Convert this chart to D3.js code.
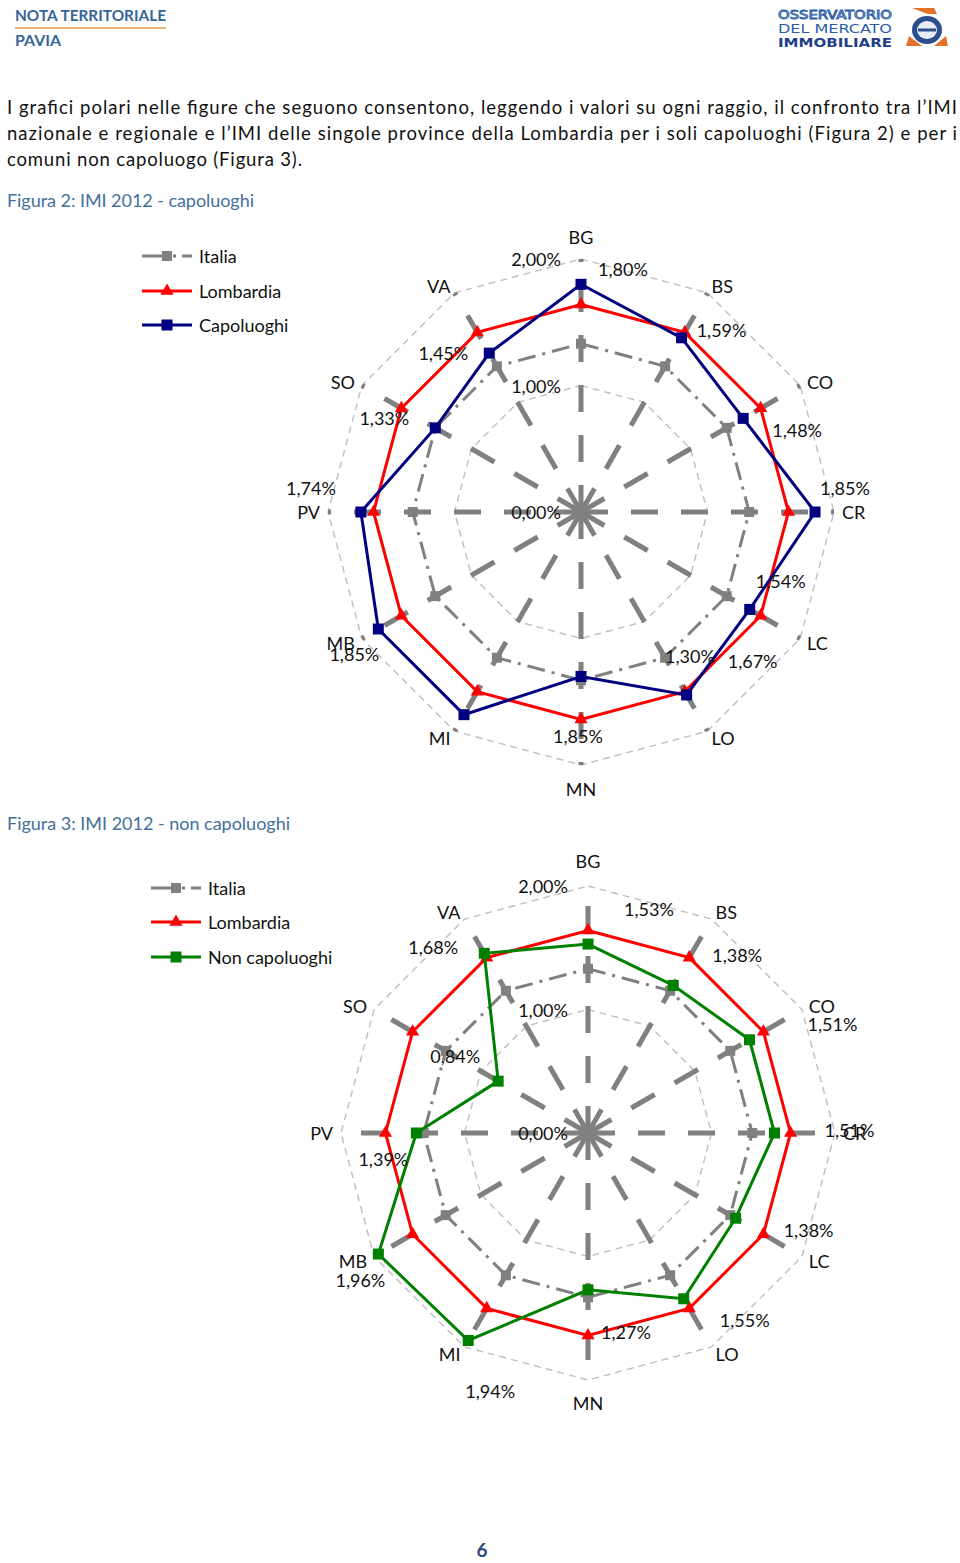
<!DOCTYPE html>
<html><head><meta charset="utf-8">
<script src="https://cdn.jsdelivr.net/npm/d3@7"></script>
<style>
html,body{margin:0;padding:0;background:#fff;}
svg{display:block;font-family:Lato,"Open Sans",sans-serif;}
</style></head>
<body><svg id="page" width="960" height="1563"></svg>
<script>
// ---------- data ----------
const categories = ["BG","BS","CO","CR","LC","LO","MN","MI","MB","PV","SO","VA"];
const italia = [1.33,1.33,1.33,1.33,1.33,1.33,1.33,1.33,1.33,1.33,1.33,1.33];
const lombardia = [1.64,1.64,1.64,1.64,1.64,1.64,1.64,1.64,1.64,1.64,1.64,1.64];
const capoluoghi = [1.80,1.59,1.48,1.85,1.54,1.67,1.30,1.85,1.85,1.74,1.33,1.45];
const nonCapoluoghi = [1.53,1.38,1.51,1.51,1.38,1.55,1.27,1.94,1.96,1.39,0.84,1.68];
const tickValues = [0, 1, 2];
const legendNames1 = ["Italia","Lombardia","Capoluoghi"];
const legendNames2 = ["Italia","Lombardia","Non capoluoghi"];

// label placement offsets (layout only, pixels from the marker)
const labelOffsets1 = [[42,-15],[40,-8],[54,12],[30,-24],[31,-28],[66,-34],[109,-20],[114,21],[-24,25],[-50,-24],[-51,-10],[-46,0]];
const labelOffsets2 = [[61,-35],[64,-30],[83,-16],[75,-3],[73,12],[61,21],[38,42],[22,51],[-18,26],[-33,26],[-43,-25],[-51,-6]];

const fmt = v => d3.format(".2f")(v).replace(".", ",") + "%";
const svg = d3.select("#page");

// ---------- header ----------
svg.append("text").attr("x",15).attr("y",21).attr("font-size",15).attr("font-weight","bold")
  .attr("fill","#35659A").attr("textLength",151).attr("lengthAdjust","spacingAndGlyphs").text("NOTA TERRITORIALE");
svg.append("line").attr("x1",15).attr("x2",166).attr("y1",28).attr("y2",28).attr("stroke","#E99A4C").attr("stroke-width",1.5);
svg.append("text").attr("x",15).attr("y",46).attr("font-size",15).attr("font-weight","bold")
  .attr("fill","#35659A").attr("textLength",46).attr("lengthAdjust","spacingAndGlyphs").text("PAVIA");

const logoFont = "'Liberation Sans Narrow','DejaVu Sans Condensed',sans-serif";
const logo = svg.append("g");
logo.append("text").attr("x",778).attr("y",19).attr("font-size",13).attr("font-family",logoFont)
  .attr("fill","#fff").attr("stroke","#2B5CA8").attr("stroke-width",0.9).attr("textLength",114).attr("lengthAdjust","spacingAndGlyphs").text("OSSERVATORIO");
logo.append("text").attr("x",778).attr("y",33).attr("font-size",13).attr("font-family",logoFont)
  .attr("fill","#2B5CA8").attr("textLength",114).attr("lengthAdjust","spacingAndGlyphs").text("DEL MERCATO");
logo.append("text").attr("x",778).attr("y",47).attr("font-size",13).attr("font-weight","bold").attr("font-family",logoFont)
  .attr("fill","#1F3F8A").attr("textLength",114).attr("lengthAdjust","spacingAndGlyphs").text("IMMOBILIARE");
logo.append("path").attr("d","M912,8 L934,8 L937,14 L928,14 Z M906,46 L909,36 L922,46 Z M934,46 L946,36 L948,46 Z").attr("fill","#E2712B");
logo.append("ellipse").attr("cx",927).attr("cy",30).attr("rx",15).attr("ry",14).attr("fill","#2C4E8E");
logo.append("ellipse").attr("cx",927).attr("cy",30).attr("rx",10).attr("ry",9).attr("fill","#E8EEF6");
logo.append("path").attr("d","M918,30 L936,30").attr("stroke","#2C4E8E").attr("stroke-width",3);

// ---------- body text ----------
const bodyLines = [
  {t:"I grafici polari nelle figure che seguono consentono, leggendo i valori su ogni raggio, il confronto tra l’IMI", y:114, w:950},
  {t:"nazionale e regionale e l’IMI delle singole province della Lombardia per i soli capoluoghi (Figura 2) e per i", y:140, w:950},
  {t:"comuni non capoluogo (Figura 3).", y:166, w:295}
];
bodyLines.forEach(l => svg.append("text").attr("x",7).attr("y",l.y).attr("font-size",18.5).attr("fill","#111")
  .attr("textLength",l.w).attr("lengthAdjust","spacing").text(l.t));

svg.append("text").attr("x",7).attr("y",207).attr("font-size",18).attr("fill","#44709D")
  .attr("textLength",247).attr("lengthAdjust","spacing").text("Figura 2: IMI 2012 - capoluoghi");
svg.append("text").attr("x",7).attr("y",830).attr("font-size",18).attr("fill","#44709D")
  .attr("textLength",283).attr("lengthAdjust","spacing").text("Figura 3: IMI 2012 - non capoluoghi");

svg.append("text").attr("x",482).attr("y",1557).attr("text-anchor","middle").attr("font-size",19).attr("font-weight","bold")
  .attr("fill","#2C4A78").text("6");

// ---------- radar ----------
function radar(cfg) {
  const g = svg.append("g").attr("transform",`translate(${cfg.cx},${cfg.cy})`);
  const n = categories.length;
  const angle = d3.scaleLinear().domain([0,n]).range([0,2*Math.PI]);
  const r = d3.scaleLinear().domain([0,2]).range([0,cfg.R]);
  const px = (i,v) => r(v)*Math.sin(angle(i));
  const py = (i,v) => -r(v)*Math.cos(angle(i));

  // rings
  const ringLine = d3.lineRadial().angle((d,i)=>angle(i)).radius(d=>r(d)).curve(d3.curveLinearClosed);
  tickValues.filter(t=>t>0).forEach(t=>{
    g.append("path").attr("d",ringLine(categories.map(()=>t))).attr("fill","none")
      .attr("stroke","#BFBFBF").attr("stroke-width",1.4).attr("stroke-dasharray","7,5");
  });
  // spokes
  categories.forEach((c,i)=>{
    g.append("line").attr("x1",0).attr("y1",0).attr("x2",px(i,2)).attr("y2",py(i,2))
      .attr("stroke","#808080").attr("stroke-width",5).attr("stroke-dasharray","27,23").attr("stroke-dashoffset",0);
  });
  // category labels
  categories.forEach((c,i)=>{
    const a = angle(i), s = Math.sin(a), co = Math.cos(a);
    let x, y, anchor;
    if (Math.abs(s) < 0.01) { const rr = cfg.R + (co>0?cfg.topPad:cfg.botPad); x = rr*s; y = -rr*co; anchor="middle"; }
    else { const rr = cfg.R + 8; x = rr*s; y = -rr*co; anchor = s>0?"start":"end"; }
    g.append("text").attr("x",x).attr("y",y).attr("text-anchor",anchor).attr("dominant-baseline","central")
      .attr("font-size",18).attr("fill","#111").text(c);
  });

  const line = d3.lineRadial().angle((d,i)=>angle(i)).radius(d=>r(d)).curve(d3.curveLinearClosed);
  const sq = (size) => d3.symbol().type(d3.symbolSquare).size(size*size);
  // Italia
  g.append("path").attr("d",line(italia)).attr("fill","none").attr("stroke","#808080").attr("stroke-width",3)
    .attr("stroke-dasharray","18,7,3,7");
  italia.forEach((v,i)=>g.append("path").attr("d",sq(10)()).attr("transform",`translate(${px(i,v)},${py(i,v)})`).attr("fill","#808080"));
  // Lombardia
  g.append("path").attr("d",line(lombardia)).attr("fill","none").attr("stroke","#FF0000").attr("stroke-width",3);
  lombardia.forEach((v,i)=>g.append("path").attr("d",d3.symbol().type(d3.symbolTriangle).size(75)())
    .attr("transform",`translate(${px(i,v)},${py(i,v)})`).attr("fill","#FF0000"));
  // third series
  g.append("path").attr("d",line(cfg.series)).attr("fill","none").attr("stroke",cfg.color).attr("stroke-width",3);
  cfg.series.forEach((v,i)=>g.append("path").attr("d",sq(11)()).attr("transform",`translate(${px(i,v)},${py(i,v)})`).attr("fill",cfg.color));

  // tick labels
  tickValues.forEach(t=>{
    g.append("text").attr("x",-20).attr("y",-r(t)).attr("text-anchor","end").attr("dominant-baseline","central")
      .attr("font-size",18).attr("fill","#111").text(fmt(t));
  });
  // data labels
  cfg.series.forEach((v,i)=>{
    const o = cfg.offsets[i];
    g.append("text").attr("x",px(i,v)+o[0]).attr("y",py(i,v)+o[1]).attr("text-anchor","middle").attr("dominant-baseline","central")
      .attr("font-size",18).attr("fill","#111").text(fmt(v));
  });

  // legend
  const lg = svg.append("g");
  const cols = ["#808080","#FF0000",cfg.color];
  cfg.legendNames.forEach((name,k)=>{
    const y = cfg.legY[k], x0 = cfg.legX, x1 = cfg.legX+50, xm = cfg.legX+25;
    if (k===0) {
      lg.append("line").attr("x1",x0).attr("x2",x1).attr("y1",y).attr("y2",y).attr("stroke",cols[k]).attr("stroke-width",3)
        .attr("stroke-dasharray","25,6,3,6,10");
      lg.append("path").attr("d",sq(10)()).attr("transform",`translate(${xm},${y})`).attr("fill",cols[k]);
    } else {
      lg.append("line").attr("x1",x0).attr("x2",x1).attr("y1",y).attr("y2",y).attr("stroke",cols[k]).attr("stroke-width",3);
      const sym = k===1 ? d3.symbol().type(d3.symbolTriangle).size(75)() : sq(11)();
      lg.append("path").attr("d",sym).attr("transform",`translate(${xm},${y})`).attr("fill",cols[k]);
    }
    lg.append("text").attr("x",x1+7).attr("y",y).attr("dominant-baseline","central").attr("font-size",18).attr("fill","#111").text(name);
  });
}

radar({cx:581, cy:512, R:253, topPad:22, botPad:24, series:capoluoghi, color:"#000080", offsets:labelOffsets1,
  legendNames:legendNames1, legX:142, legY:[256,291,325]});
radar({cx:588, cy:1133, R:247, topPad:25, botPad:23, series:nonCapoluoghi, color:"#008000", offsets:labelOffsets2,
  legendNames:legendNames2, legX:151, legY:[888,922,957]});
</script>
</body></html>
